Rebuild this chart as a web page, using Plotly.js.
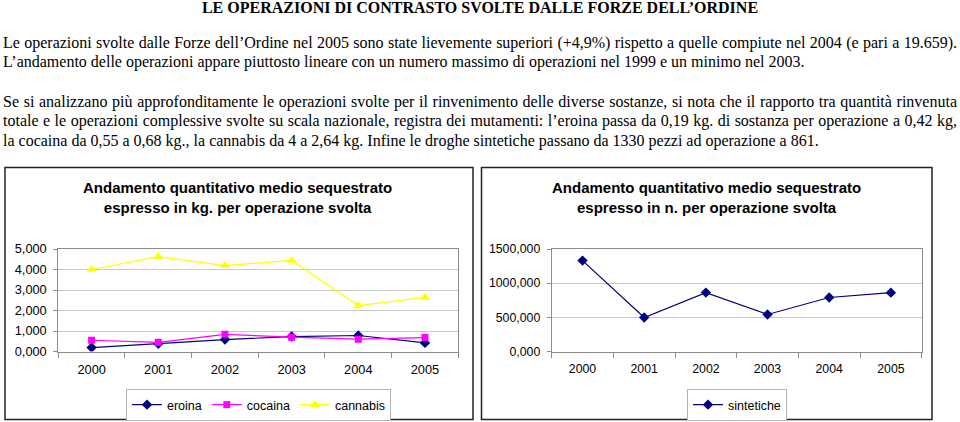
<!DOCTYPE html>
<html>
<head>
<meta charset="utf-8">
<script src="https://cdn.plot.ly/plotly-3.0.1.min.js"></script>
<style>
  html, body { margin: 0; padding: 0; background: #fff; }
  #wrap { position: relative; width: 960px; height: 422px; overflow: hidden; background: #fff; }
  #chart { position: absolute; left: 0; top: 0; width: 960px; height: 422px; }
  .t { position: absolute; left: 3px; font-family: "Liberation Serif", "Times New Roman", serif;
       font-size: 16px; line-height: 19.5px; height: 19.5px; color: #000; white-space: nowrap; pointer-events: none; }
  .j { width: 954px; white-space: normal; text-align: justify; text-align-last: justify; overflow: hidden; }
  .title { left: 0; width: 960px; text-align: center; font-weight: bold; }
</style>
</head>
<body>
<div id="wrap">
  <div id="chart"></div>
  <div class="t title" style="top:-2.5px">LE OPERAZIONI DI CONTRASTO SVOLTE DALLE FORZE DELL’ORDINE</div>
  <div class="t j" style="top:32.5px">Le operazioni svolte dalle Forze dell’Ordine nel 2005 sono state lievemente superiori (+4,9%) rispetto a quelle compiute nel 2004 (e pari a 19.659).</div>
  <div class="t" style="top:52px">L’andamento delle operazioni appare piuttosto lineare con un numero massimo di operazioni nel 1999 e un minimo nel 2003.</div>
  <div class="t j" style="top:91.5px">Se si analizzano più approfonditamente le operazioni svolte per il rinvenimento delle diverse sostanze, si nota che il rapporto tra quantità rinvenuta</div>
  <div class="t j" style="top:111px">totale e le operazioni complessive svolte su scala nazionale, registra dei mutamenti: l’eroina passa da 0,19 kg. di sostanza per operazione a 0,42 kg,</div>
  <div class="t" style="top:130.5px">la cocaina da 0,55 a 0,68 kg., la cannabis da 4 a 2,64 kg. Infine le droghe sintetiche passano da 1330 pezzi ad operazione a 861.</div>
</div>
<script>
// ---- data ----
const years = ['2000', '2001', '2002', '2003', '2004', '2005'];
const eroina = [0.19, 0.38, 0.58, 0.73, 0.78, 0.42];
const cocaina = [0.55, 0.45, 0.84, 0.70, 0.60, 0.68];
const cannabis = [4.00, 4.63, 4.19, 4.44, 2.24, 2.64];
const sintetiche = [1330, 498, 862, 542, 790, 861];
const titleKg = 'Andamento quantitativo medio sequestrato<br>espresso in kg. per operazione svolta';
const titleN = 'Andamento quantitativo medio sequestrato<br>espresso in n. per operazione svolta';

// ---- layout helpers (pixel -> paper) ----
const W = 960, H = 422;
const px = v => v / W;
const py = v => (H - v) / H;

const FONT = 'Liberation Sans, Arial, sans-serif';
const GRID = '#c8c8c8';
const AXIS = '#8c8c8c';

function xAxis(dom, anchor, size) {
  return {
    domain: dom, anchor: anchor, type: 'category', range: [-0.5, 5.5], tickson: 'boundaries',
    ticks: 'outside', ticklen: 5, tickcolor: AXIS, showline: true, linecolor: AXIS,
    mirror: true, showgrid: false, zeroline: false, fixedrange: true,
    tickfont: { family: FONT, size: size, color: '#000' }, ticklabelstandoff: 6
  };
}
function yAxis(dom, anchor, range, dtick, size) {
  return {
    domain: dom, anchor: anchor, range: range, dtick: dtick, tick0: 0, tickformat: '.3f',
    ticks: 'outside', ticklen: 4, tickcolor: AXIS, showline: true, linecolor: AXIS,
    mirror: true, showgrid: true, gridcolor: GRID, zeroline: false, fixedrange: true,
    tickfont: { family: FONT, size: size, color: '#000' }, ticklabelstandoff: 4
  };
}

const yDom = [py(351.5), py(249)];

const traces = [
  { x: years, y: eroina, name: 'eroina', type: 'scatter', mode: 'lines+markers',
    xaxis: 'x', yaxis: 'y', legend: 'legend',
    line: { color: '#000080', width: 1.2 }, marker: { symbol: 'diamond', size: 8, color: '#000080' } },
  { x: years, y: cocaina, name: 'cocaina', type: 'scatter', mode: 'lines+markers',
    xaxis: 'x', yaxis: 'y', legend: 'legend',
    line: { color: '#ff00ff', width: 1.2 }, marker: { symbol: 'square', size: 7, color: '#ff00ff' } },
  { x: years, y: cannabis, name: 'cannabis', type: 'scatter', mode: 'lines+markers',
    xaxis: 'x', yaxis: 'y', legend: 'legend',
    line: { color: '#ffff00', width: 1.2 }, marker: { symbol: 'triangle-up', size: 9, color: '#ffff00' } },
  { x: years, y: sintetiche, name: 'sintetiche', type: 'scatter', mode: 'lines+markers',
    xaxis: 'x2', yaxis: 'y2', legend: 'legend2',
    line: { color: '#000080', width: 1.2 }, marker: { symbol: 'diamond', size: 8, color: '#000080' } }
];

const legendBase = {
  orientation: 'h', xanchor: 'center', yanchor: 'middle', y: py(405),
  bgcolor: '#fff', bordercolor: '#b4b4b4', borderwidth: 1, itemwidth: 30,
  font: { family: FONT, size: 12.5, color: '#000' }
};

const layout = {
  width: W, height: H, margin: { l: 0, r: 0, t: 0, b: 0 },
  paper_bgcolor: '#fff', plot_bgcolor: '#fff',
  separators: ',.', showlegend: true,
  xaxis: xAxis([px(58.3), px(458.3)], 'y', 12.8),
  yaxis: yAxis(yDom, 'x', [0, 5], 1, 12.8),
  xaxis2: xAxis([px(551.7), px(921.7)], 'y2', 12.3),
  yaxis2: yAxis(yDom, 'x2', [0, 1500], 500, 12.3),
  legend: Object.assign({}, legendBase, { x: px(258.5) }),
  legend2: Object.assign({}, legendBase, { x: px(737) }),
  annotations: [
    { text: titleKg, xref: 'paper', yref: 'paper', x: px(237.5), y: py(198), xanchor: 'center', yanchor: 'middle',
      showarrow: false, font: { family: FONT, size: 15, color: '#000', weight: 'bold' } },
    { text: titleN, xref: 'paper', yref: 'paper', x: px(706), y: py(198), xanchor: 'center', yanchor: 'middle',
      showarrow: false, font: { family: FONT, size: 15, color: '#000', weight: 'bold' } }
  ],
  shapes: [
    { type: 'rect', xref: 'paper', yref: 'paper', x0: px(5), x1: px(473), y0: py(419.5), y1: py(167.5),
      line: { color: '#222', width: 1.5 }, layer: 'below' },
    { type: 'rect', xref: 'paper', yref: 'paper', x0: px(481.5), x1: px(932), y0: py(419.5), y1: py(167.5),
      line: { color: '#222', width: 1.5 }, layer: 'below' }
  ]
};

Plotly.newPlot('chart', traces, layout, { staticPlot: true, displayModeBar: false });

// keep justified lines on a single line
document.querySelectorAll('.j').forEach(el => {
  let fs = 16;
  while (el.scrollHeight > 21 && fs > 12) { fs -= 0.1; el.style.fontSize = fs + 'px'; }
});
</script>
</body>
</html>
